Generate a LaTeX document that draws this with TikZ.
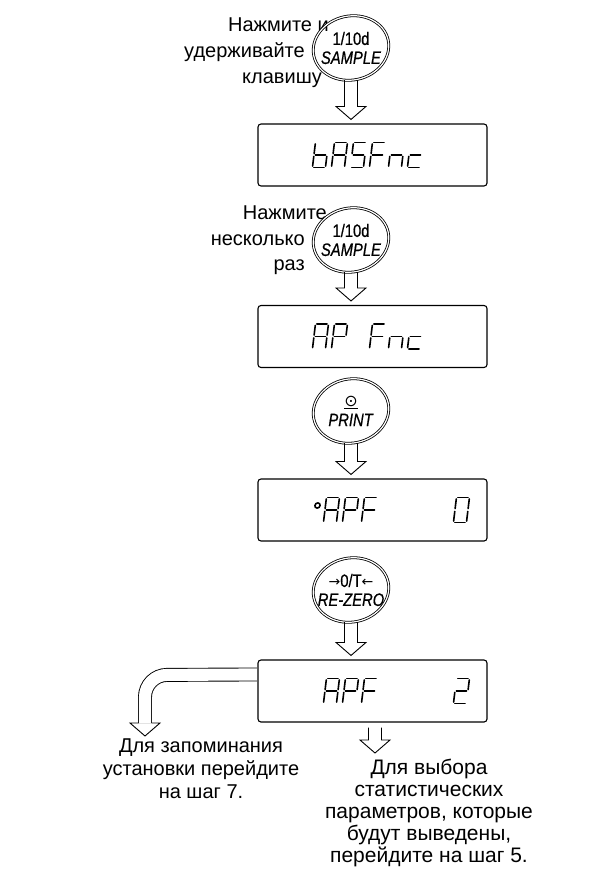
\documentclass[tikz,border=0pt]{standalone}
\usepackage{fontspec}
\setmainfont{Liberation Sans}
\newfontfamily\keyfont[FakeStretch=0.82,FakeBold=0.6]{Liberation Sans}
\newfontfamily\symfont{DejaVu Sans}
\usetikzlibrary{calc,shapes.geometric}

% segments of a seven-segment glyph, origin at the lower left corner
\expandafter\def\csname seg-a\endcsname{(1.4,-25) -- (11.6,-25)}
\expandafter\def\csname seg-b\endcsname{(13,-23.6) -- (13,-13.9)}
\expandafter\def\csname seg-c\endcsname{(13,-11.1) -- (13,-1.4)}
\expandafter\def\csname seg-d\endcsname{(1.4,0) -- (11.6,0)}
\expandafter\def\csname seg-e\endcsname{(0,-11.1) -- (0,-1.4)}
\expandafter\def\csname seg-f\endcsname{(0,-23.6) -- (0,-13.9)}
\expandafter\def\csname seg-g\endcsname{(1.4,-12.5) -- (11.6,-12.5)}

\makeatletter
\newcommand\segglyph[1]{%
  \edef\seg@set{#1}%
  \foreach \s in {a,b,c,d,e,f,g}{%
    \edef\seg@test{\noexpand\in@{\s}{\seg@set}}\seg@test
    \ifin@
      \expandafter\let\expandafter\seg@p\csname seg-\s\endcsname
      \draw[segline] \seg@p;
    \fi}%
  \edef\seg@test{\noexpand\in@{o}{\seg@set}}\seg@test
  \ifin@ \draw[segline] (3,-17) circle[radius=2.6bp];\fi}
\makeatother

\tikzset{
  nadpis/.style={font=\fontsize{20bp}{26bp}\selectfont, inner sep=0pt},
  klavisha/.style={ellipse, minimum width=76bp, minimum height=64bp, inner sep=0pt,
                align=center, font=\keyfont\fontsize{18bp}{19bp}\selectfont},
  kolco/.style={double, line width=0.8bp, double distance=1.2bp},
  ekran/.style={draw, line width=1.1bp, rounded corners=3bp,
                minimum width=229bp, minimum height=62bp, inner sep=0pt},
  segline/.style={line width=1.6bp, line cap=round},
  % hollow arrow pointing down, its tip at the target
  strelka/.style={line width=0.9bp, line join=miter, to path={
      let \p1=(\tikztostart), \p2=(\tikztotarget) in
      (\x1-6.5bp,\y1) -- (\x1-6.5bp,\y2+13bp) -- (\x1-15bp,\y2+13bp) -- (\x1,\y2)
      -- (\x1+15bp,\y2+13bp) -- (\x1+6.5bp,\y2+13bp) -- (\x1+6.5bp,\y1)}},
  polosa/.style={double, line width=0.9bp, double distance=12.1bp, rounded corners=22bp},
  pics/golova/.style={code={\draw[line width=0.9bp, line join=miter]
      (-6.5,-13) -- (-15,-13) -- (0,0) -- (15,-13) -- (6.5,-13);}},
  pics/seg7/.style={code={\begin{scope}[xslant=0.12]\segglyph{#1}\end{scope}}},
}

\begin{document}
\begin{tikzpicture}[x=1bp, y=-1bp]
  \useasboundingbox (0,0) rectangle (591,870);

  \node[nadpis, anchor=base east] (hold1) at (329,31) {Нажмите и};
  \node[nadpis, anchor=base east] (hold2) at (305,57) {удерживайте};
  \node[nadpis, anchor=base east] (hold3) at (322,83) {клавишу};
  \node[klavisha] (sample1) at (351,48) {1/10d\\\textit{SAMPLE}};

  \node[ekran] (basfnc) at (372.5,155) {};
  \foreach \dx/\zn in {55/cdefg, 74/abcefg, 93/acdfg, 112/aefg, 131/ceg, 150/deg}
    \pic at ($(basfnc.west)+(\dx,12.5)$) {seg7=\zn};

  \node[nadpis, anchor=base east] (press1) at (327,219) {Нажмите};
  \node[nadpis, anchor=base east] (press2) at (305,245) {несколько};
  \node[nadpis, anchor=base east] (press3) at (305,270) {раз};
  \node[klavisha] (sample2) at (351,240) {1/10d\\\textit{SAMPLE}};

  \node[ekran] (apfnc) at (372.5,336.5) {};
  \foreach \dx/\zn in {55/abcefg, 74/abefg, 112/aefg, 131/ceg, 150/deg}
    \pic at ($(apfnc.west)+(\dx,12.5)$) {seg7=\zn};

  \node[klavisha] (printkey) at (351,411)
    {{\symfont\fontsize{16bp}{16bp}\selectfont\underline{⊙}}\\[1bp]\textit{PRINT}};

  \node[ekran] (apfzero) at (372.5,510) {};
  \foreach \dx/\zn in {55/o, 66/abcefg, 85/abefg, 104/aefg, 196/abcdef}
    \pic at ($(apfzero.west)+(\dx,12.5)$) {seg7=\zn};

  \node[klavisha] (rezerokey) at (351,590)
    {{\symfont\fontsize{14bp}{14bp}\selectfont →}0/T{\symfont\fontsize{14bp}{14bp}\selectfont ←}\\\textit{RE-ZERO}};

  \node[ekran] (apftwo) at (372.5,691) {};
  \foreach \dx/\zn in {66/abcefg, 85/abefg, 104/aefg, 196/abdeg}
    \pic at ($(apftwo.west)+(\dx,12.5)$) {seg7=\zn};

  % key outlines, slightly tilted
  \foreach \k in {sample1, sample2, printkey, rezerokey}
    \draw[kolco, rotate around={12:(\k.center)}] (\k.center) ellipse [x radius=38bp, y radius=32bp];

  \draw[strelka] (sample1.south)   to ([yshift=4bp]basfnc.north);
  \draw[strelka] (sample2.south)   to ([yshift=4bp]apfnc.north);
  \draw[strelka] (printkey.south)  to ([yshift=4bp]apfzero.north);
  \draw[strelka] (rezerokey.south) to ([yshift=4bp]apftwo.north);

  \coordinate (stattip) at (375,753);
  \draw[strelka] ([xshift=2.5bp,yshift=-5bp]apftwo.south) to (stattip);

  \coordinate (savetip) at (145,736);
  \draw[polosa, shorten <=0.6bp] ($(apftwo.north west)+(0,15)$) -- (145,675) -- ($(savetip)+(0,-13)$);
  \pic at (savetip) {golova};

  \node[nadpis, align=center, anchor=north, font=\fontsize{20bp}{23bp}\selectfont] (zapom) at (201,739)
    {Для запоминания\\установки перейдите\\на шаг 7.};
  \node[nadpis, align=center, anchor=north, font=\fontsize{21bp}{22bp}\selectfont] (vybor) at (429,759)
    {Для выбора\\статистических\\параметров, которые\\будут выведены,\\перейдите на шаг 5.};
\end{tikzpicture}
\end{document}
